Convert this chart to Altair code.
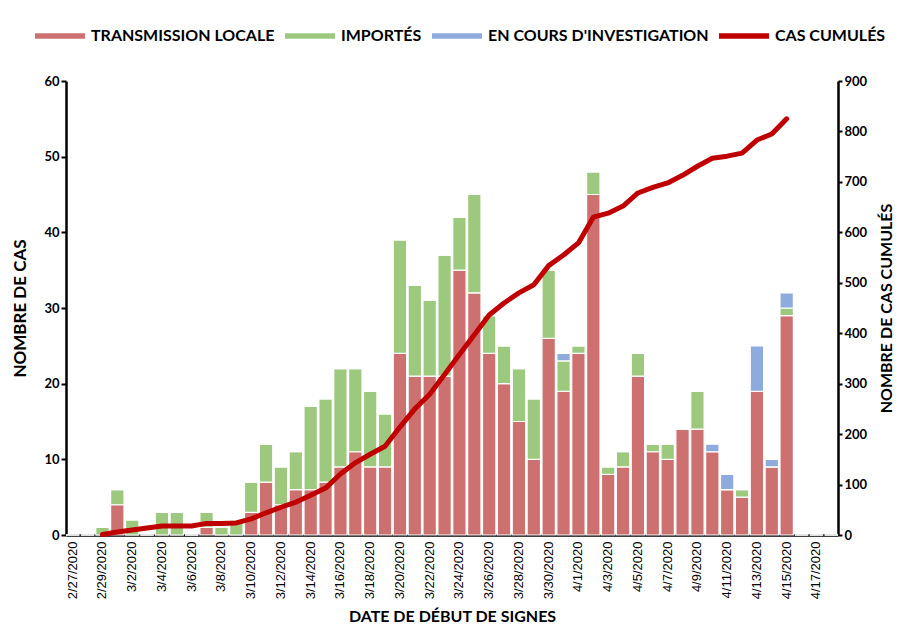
import altair as alt
import pandas as pd
import datetime as dt

# ---- categories: days 2/27/2020 .. 4/18/2020 ----
start = dt.date(2020, 2, 27)
days = [start + dt.timedelta(days=i) for i in range(52)]
day_labels = [f"{d.month}/{d.day}/2020" for d in days]
tick_labels = day_labels[0:51:2]

# ---- daily cases, one value per day from 2/27 to 4/18 ----
local = [0, 0, 0, 4, 0, 0, 0, 0, 0, 1, 0, 0,           # 2/27 - 3/9
         3, 7, 4, 6, 6, 7, 9, 11, 9, 9,                  # 3/10 - 3/19
         24, 21, 21, 21, 35, 32, 24, 20, 15, 10,         # 3/20 - 3/29
         26, 19,                                         # 3/30 - 3/31
         24, 45, 8, 9, 21, 11, 10, 14, 14, 11,           # 4/1 - 4/10
         6, 5, 19, 9, 29, 0, 0, 0]                       # 4/11 - 4/18
imported = [0, 0, 1, 2, 2, 0, 3, 3, 0, 2, 1, 2,
            4, 5, 5, 5, 11, 11, 13, 11, 10, 7,
            15, 12, 10, 16, 7, 13, 5, 5, 7, 8,
            9, 4,
            1, 3, 1, 2, 3, 1, 2, 0, 5, 0,
            0, 1, 0, 0, 1, 0, 0, 0]
investigation = [0, 0, 0, 0, 0, 0, 0, 0, 0, 0, 0, 0,
                 0, 0, 0, 0, 0, 0, 0, 0, 0, 0,
                 0, 0, 0, 0, 0, 0, 0, 0, 0, 0,
                 0, 1,
                 0, 0, 0, 0, 0, 0, 0, 0, 0, 1,
                 2, 0, 6, 1, 2, 0, 0, 0]

# ---- cumulative cases (right axis), 2/29 .. 4/15 ----
cum_labels = day_labels[2:49]
cumulative = [1, 6, 10, 14, 18, 18, 18, 23, 23, 24,
              32, 44, 55, 65, 79, 93, 121, 143, 160, 176,
              214, 250, 279, 318, 358, 397, 436, 460, 480, 496,
              534, 555,
              579, 630, 638, 652, 678, 689, 698, 713, 731, 747,
              751, 757, 783, 795, 825]

series_names = ["TRANSMISSION LOCALE", "IMPORTÉS", "EN COURS D'INVESTIGATION", "CAS CUMULÉS"]
series_colors = ["#CD7170", "#9DC97F", "#8FAADC", "#C00000"]

rows = []
for k, (name, vals) in enumerate(zip(series_names[:3], [local, imported, investigation])):
    for lab, v in zip(day_labels, vals):
        rows.append({"date": lab, "series": name, "value": v, "ord": k})
bars_df = pd.DataFrame(rows)
line_df = pd.DataFrame({"date": cum_labels, "cum": cumulative, "series": "CAS CUMULÉS"})

FONT = "Lato"

x_enc = alt.X("date:N", sort=day_labels,
              scale=alt.Scale(domain=day_labels, paddingInner=0.1, paddingOuter=0.0),
              axis=alt.Axis(title="DATE DE DÉBUT DE SIGNES", values=tick_labels,
                            labelAngle=270, labelFont="Liberation Sans", labelFontSize=13,
                            labelColor="black", labelPadding=6, ticks=False,
                            domainColor="black", domainWidth=2.5,
                            titleFont=FONT, titleFontSize=16, titleFontWeight="bold",
                            titleColor="black", titlePadding=10))

color_scale = alt.Scale(domain=series_names, range=series_colors)

legend = alt.Legend(title=None, orient="none", direction="horizontal",
                    columns=4, legendX=-31, legendY=-70,
                    symbolType="M-1,-0.11H1V0.11H-1Z", symbolSize=2500,
                    symbolStrokeWidth=0, labelFont=FONT,
                    labelFontSize=16, labelFontWeight="bold",
                    labelColor="black", labelOffset=6,
                    columnPadding=10, labelLimit=400)

bars = alt.Chart(bars_df).mark_bar(stroke="white", strokeWidth=1.2).encode(
    x=x_enc,
    y=alt.Y("value:Q", stack="zero",
            scale=alt.Scale(domain=[0, 60], nice=False),
            axis=alt.Axis(title="NOMBRE DE CAS", values=list(range(0, 61, 10)),
                          grid=False, labelFont=FONT, labelFontSize=13,
                          labelFontWeight="bold", labelColor="black",
                          tickColor="black", tickSize=5, tickWidth=2,
                          domainColor="black", domainWidth=2.5,
                          titleFont=FONT, titleFontSize=17, titleFontWeight="bold",
                          titleColor="black", titlePadding=14)),
    color=alt.Color("series:N", scale=color_scale, legend=legend),
    order=alt.Order("ord:Q", sort="ascending"),
)

line = alt.Chart(line_df).mark_line(strokeWidth=5, strokeCap="round", strokeJoin="round").encode(
    x=alt.X("date:N", sort=day_labels, scale=alt.Scale(domain=day_labels)),
    y=alt.Y("cum:Q", scale=alt.Scale(domain=[0, 900], nice=False),
            axis=alt.Axis(title="NOMBRE DE CAS CUMULÉS", orient="right", titleAngle=270,
                          titleBaseline="top",
                          values=list(range(0, 901, 100)), grid=False,
                          labelFont=FONT, labelFontSize=13, labelFontWeight="bold",
                          labelColor="black", tickColor="black", tickSize=4, tickWidth=2,
                          domainColor="black", domainWidth=2.5,
                          titleFont=FONT, titleFontSize=16, titleFontWeight="bold",
                          titleColor="black", titlePadding=12)),
    color=alt.Color("series:N", scale=color_scale, legend=legend),
)

chart = alt.layer(bars, line).resolve_scale(y="independent").properties(
    width=772, height=454,
    autosize=alt.AutoSizeParams(type="none"),
    padding={"left": 58, "top": 73, "right": 57, "bottom": 90},
).configure_view(stroke=None)

chart.save("out.html", embed_options={"renderer": "svg", "actions": False})
